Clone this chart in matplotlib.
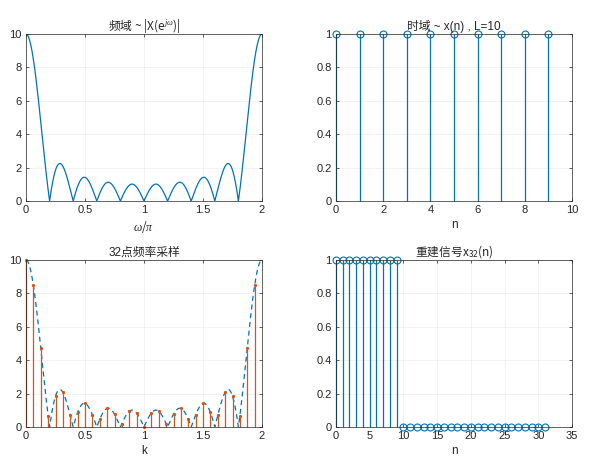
import numpy as np
import matplotlib
matplotlib.use('Agg')
import matplotlib.pyplot as plt

plt.rcParams['font.family'] = ['Liberation Sans', 'Noto Sans CJK SC', 'DejaVu Sans']
plt.rcParams['mathtext.fontset'] = 'custom'
plt.rcParams['mathtext.rm'] = 'Noto Sans CJK SC'
plt.rcParams['mathtext.it'] = 'Liberation Serif:italic'
plt.rcParams['font.size'] = 8

# time-domain signal, L=10
n_time = list(range(10))
x_n = [1, 1, 1, 1, 1, 1, 1, 1, 1, 1]

# 32-point frequency samples |X(k)|, positions k*2/32
k_idx = list(range(32))
Xk = [10.0, 8.48, 4.74, 0.67, 1.85, 2.08, 0.69, 0.88, 1.41, 0.72, 0.46, 1.11,
      0.77, 0.20, 0.94, 0.84, 0.0, 0.84, 0.94, 0.20, 0.77, 1.11, 0.46, 0.72,
      1.41, 0.88, 0.69, 2.08, 1.85, 0.67, 4.74, 8.48]

# reconstructed x32(n)
n_rec = list(range(32))
x32 = [1, 1, 1, 1, 1, 1, 1, 1, 1, 1] + [0] * 22

# DTFT magnitude of x(n) on a dense grid (transform of the signal above)
Nfft = 2000
X_dense = np.abs(np.fft.fft(x_n, Nfft))
w_dense = np.arange(Nfft + 1) * 2.0 / Nfft
X_dense = np.append(X_dense, X_dense[0])

blue = '#0072BD'
orange = '#D95319'
txt = '#262626'
cjk = 'Noto Sans CJK SC'

fig = plt.figure(figsize=(5.99, 4.73), dpi=100)
W, H = 599, 473
def box(l, t, r, b):
    return [l / W, 1 - b / H, (r - l) / W, (b - t) / H]

ax1 = fig.add_axes(box(26, 34, 262, 201))
ax2 = fig.add_axes(box(336, 34, 572, 201))
ax3 = fig.add_axes(box(26, 260, 262, 427))
ax4 = fig.add_axes(box(336, 260, 572, 427))

def style(ax):
    ax.grid(True, color='#d9d9d9', linewidth=0.4, alpha=0.6)
    ax.set_axisbelow(True)
    ax.tick_params(direction='in', length=2.5, width=0.5, colors=txt,
                   top=True, right=True, labelsize=8, pad=3)
    for s in ax.spines.values():
        s.set_color('#262626')
        s.set_linewidth(0.5)

def stem(ax, x, y, color, marker, ms):
    ml, sl, bl = ax.stem(x, y, basefmt=' ')
    plt.setp(sl, color=color, linewidth=0.9)
    plt.setp(ml, color=color, marker=marker, markersize=ms,
             markerfacecolor='none' if marker == 'o' else color,
             markeredgewidth=0.8)
    ml.set_clip_on(False)
    sl.set_clip_on(False)

# frequency domain
ax1.plot(w_dense, X_dense, color=blue, linewidth=0.9)
ax1.set_xlim(0, 2)
ax1.set_ylim(0, 10)
ax1.set_xticks([0, 0.5, 1, 1.5, 2])
ax1.set_xticklabels(['0', '0.5', '1', '1.5', '2'])
ax1.set_yticks([0, 2, 4, 6, 8, 10])
ax1.set_xlabel(r'$\it{\omega/\pi}$', fontsize=8.5, color=txt, labelpad=3)
ax1.set_title(r'频域 ~ |X(e$^{j\omega}$)|', fontsize=8.5, color=txt, pad=3,
              family=cjk)
style(ax1)

# time domain
stem(ax2, n_time, x_n, blue, 'o', 5)
ax2.set_xlim(0, 10)
ax2.set_ylim(0, 1)
ax2.set_xticks([0, 2, 4, 6, 8, 10])
ax2.set_yticks([0, 0.2, 0.4, 0.6, 0.8, 1])
ax2.set_yticklabels(['0', '0.2', '0.4', '0.6', '0.8', '1'])
ax2.set_xlabel('n', fontsize=8.5, color=txt, labelpad=3)
ax2.set_title('时域 ~ x(n) , L=10', fontsize=8.5, color=txt, pad=3)
style(ax2)

# 32-point sampling
ax3.plot(w_dense, X_dense, color=blue, linewidth=0.9, linestyle=(0, (4, 3)))
k_pos = [2.0 * k / 32 for k in k_idx]
stem(ax3, k_pos, Xk, orange, '.', 3)
ax3.set_xlim(0, 2)
ax3.set_ylim(0, 10)
ax3.set_xticks([0, 0.5, 1, 1.5, 2])
ax3.set_xticklabels(['0', '0.5', '1', '1.5', '2'])
ax3.set_yticks([0, 2, 4, 6, 8, 10])
ax3.set_xlabel('k', fontsize=8.5, color=txt, labelpad=3)
ax3.set_title('32点频率采样', fontsize=8.5, color=txt, pad=3)
style(ax3)

# reconstruction
stem(ax4, n_rec, x32, blue, 'o', 5)
ax4.set_xlim(0, 35)
ax4.set_ylim(0, 1)
ax4.set_xticks([0, 5, 10, 15, 20, 25, 30, 35])
ax4.set_yticks([0, 0.2, 0.4, 0.6, 0.8, 1])
ax4.set_yticklabels(['0', '0.2', '0.4', '0.6', '0.8', '1'])
ax4.set_xlabel('n', fontsize=8.5, color=txt, labelpad=3)
ax4.set_title('重建信号x$_{32}$(n)', fontsize=8.5, color=txt, pad=3,
              family=cjk)
style(ax4)

fig.savefig('out.png', dpi=100)
